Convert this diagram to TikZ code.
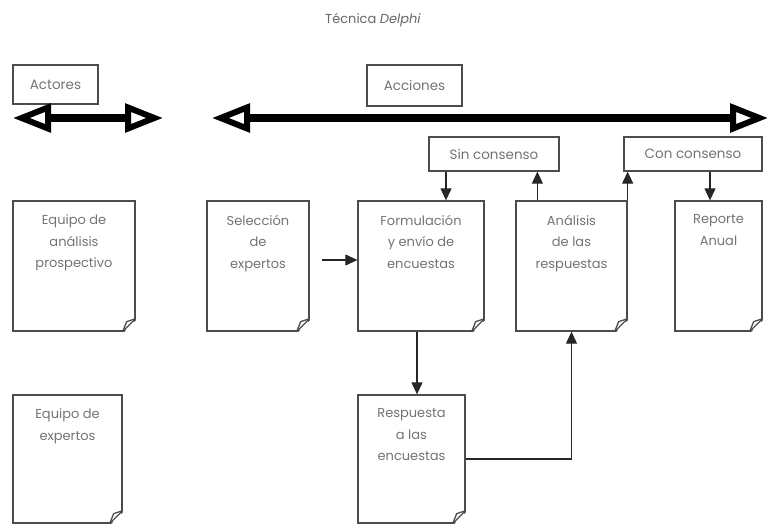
\documentclass[tikz,border=0pt]{standalone}
\usepackage{fontspec}
\setmainfont{Poppins}
\usetikzlibrary{arrows.meta}
\tikzset{
  boxline/.style={draw=black!70, line width=1.3pt},
  tag/.style={boxline, rectangle, minimum height=34pt, inner sep=0pt, text=black!55, font=\fontsize{13.5}{15}\selectfont},
  doc/.style={boxline, rectangle, minimum height=130pt, inner sep=0pt},
  doctext/.style={anchor=north, yshift=-11pt, align=center, text=black!55, font=\fontsize{13}{21.5}\selectfont},
  flow/.style={-{Triangle[length=12pt,width=11pt]}, line width=1.1pt, draw=black!85},
  axis/.style={line width=8pt, {Triangle[open,length=38pt,width=28pt,line width=6pt]}-{Triangle[open,length=38pt,width=28pt,line width=6pt]}}
}
\def\foldcorner(#1){
  \fill[white] ([shift={(1pt,-1pt)}]#1.south east) -- ([shift={(1pt,12pt)}]#1.south east) -- ([shift={(-12pt,-1pt)}]#1.south east) -- cycle;
  \draw[boxline] ([yshift=13pt]#1.south east) -- ([xshift=-13pt]#1.south east);
  \draw[boxline, line join=round] ([yshift=13pt]#1.south east) -- ([shift={(-9pt,10pt)}]#1.south east) -- ([xshift=-13pt]#1.south east);
}

\begin{document}
\begin{tikzpicture}[x=1pt, y=-1pt]
		%%%%% START %%%%%
		\useasboundingbox (0,0) rectangle (769,524);
		
		\node[text=black!60, font=\fontsize{13}{15}\selectfont] (title) at (373,20) {Técnica \textit{Delphi}};
		
		\node[tag, minimum width=85pt, minimum height=39pt] (actores) at (55.5,84.5) {Actores};
		\node[tag, minimum width=95pt, minimum height=41pt] (acciones) at (414.5,85.5) {Acciones};
		
		\coordinate (actL) at (13,118);
		\coordinate (actR) at (163,118);
		\coordinate (accL) at (212,118);
		\coordinate (accR) at (768,118);
		\draw[axis] (actL) -- (actR);
		\draw[axis] (accL) -- (accR);
		
		\node[tag, minimum width=130pt] (sin) at (494,154) {Sin consenso};
		\node[tag, minimum width=138pt] (con) at (693,154) {Con consenso};
		
		\node[doc, minimum width=122pt, label={[doctext]north:Equipo de\\análisis\\prospectivo}] (equipoA) at (74,266) {};
		\node[doc, minimum width=102pt, label={[doctext]north:Selección\\de\\expertos}] (seleccion) at (258,266) {};
		\node[doc, minimum width=126pt, label={[doctext]north:Formulación\\y envío de\\encuestas}] (formul) at (421,266) {};
		\node[doc, minimum width=111pt, label={[doctext]north:Análisis\\de las\\respuestas}] (analisis) at (571.5,266) {};
		\node[doc, minimum width=87pt, label={[doctext]north:Reporte\\Anual}] (reporte) at (718.5,266) {};
		\node[doc, minimum width=109pt, minimum height=128pt, label={[doctext]north:Equipo de\\expertos}] (equipoE) at (67.5,459) {};
		\node[doc, minimum width=107pt, minimum height=128pt, label={[doctext]north:Respuesta\\a las\\encuestas}] (respuesta) at (411.5,459) {};
		
		\foldcorner(equipoA)
		\foldcorner(seleccion)
		\foldcorner(formul)
		\foldcorner(analisis)
		\foldcorner(reporte)
		\foldcorner(equipoE)
		\foldcorner(respuesta)
		
		\coordinate (selout) at (322,260);
		\draw[flow] (selout) -- (selout -| formul.west);
		\draw[flow] ([xshift=-48pt]sin.south) -- ([xshift=-48pt]sin.south |- formul.north);
		\draw[flow] ([xshift=22pt]analisis.north west) -- ([xshift=22pt]analisis.north west |- sin.south);
		\draw[flow] (analisis.north east) -- (analisis.north east |- con.south);
		\draw[flow] ([xshift=17pt]con.south) -- ([xshift=17pt]con.south |- reporte.north);
		\draw[flow] ([xshift=-4pt]formul.south) -- ([xshift=-4pt]formul.south |- respuesta.north);
		\draw[flow] (respuesta.east) -| (analisis.south);
		%%%%% END %%%%%
	\end{tikzpicture}
\end{document}
